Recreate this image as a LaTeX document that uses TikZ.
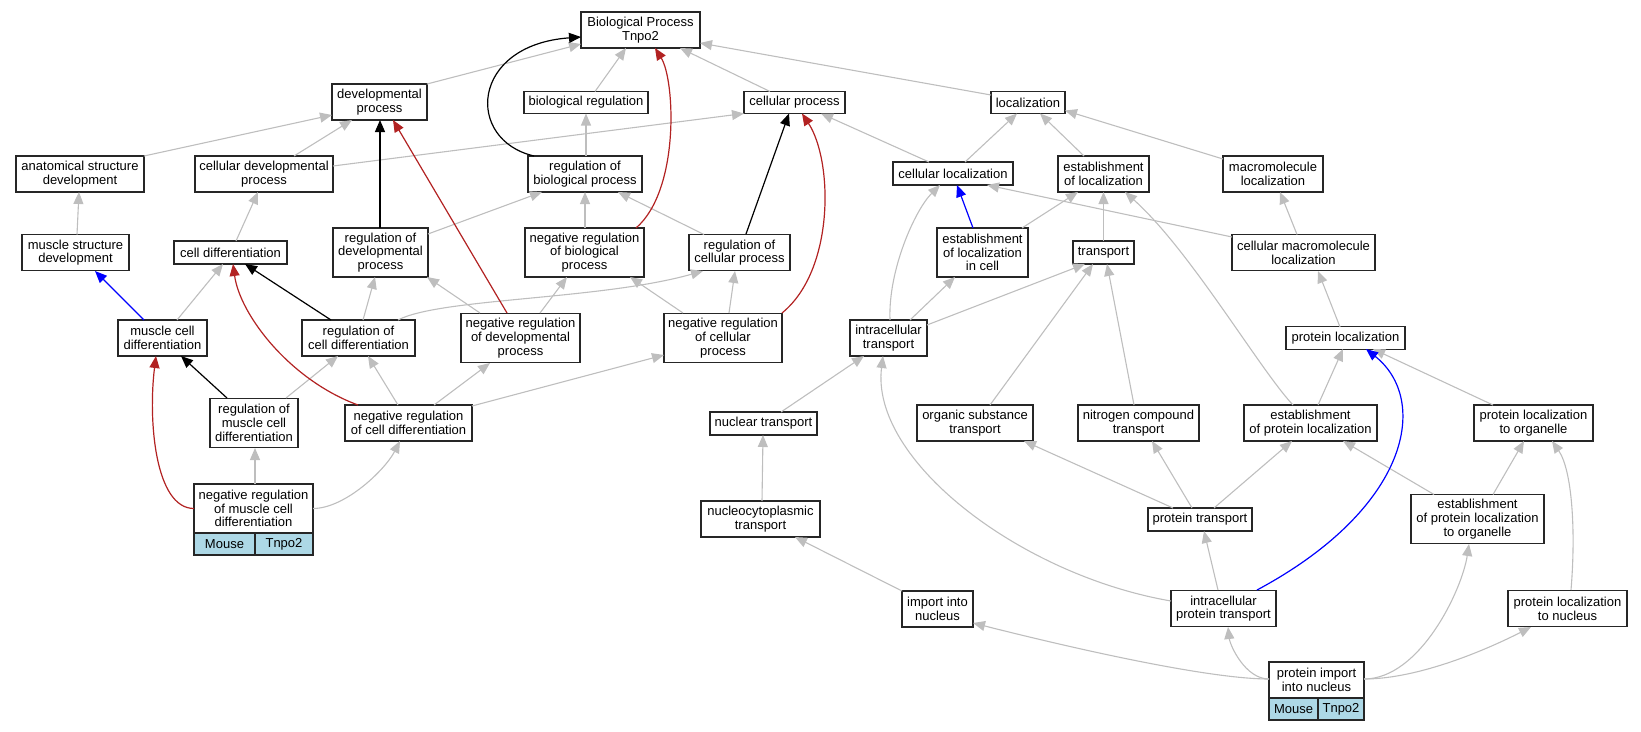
\documentclass[tikz,border=0pt]{standalone}
\usepackage{fontspec}
\setmainfont{Liberation Sans}
\usetikzlibrary{arrows.meta}
\definecolor{edgegray}{HTML}{BEBEBE}
\definecolor{firebrick}{HTML}{B22222}
\definecolor{lightblue}{HTML}{ADD8E6}
\begin{document}
\begin{tikzpicture}[x=1pt,y=-1pt,
  box/.style={draw=black!85, line width=1.2pt, fill=white, inner sep=0pt, align=center,
    font=\fontsize{13}{13.7}\selectfont},
  sz/.style 2 args={minimum width=#1pt, minimum height=#2pt},
  cell/.style={box, fill=lightblue},
  tip/.style={-{Triangle[length=12pt,width=10pt]}},
  gedge/.style={tip, draw=edgegray, line width=1.1pt},
  kedge/.style={tip, draw=black, line width=1.2pt},
  redge/.style={tip, draw=firebrick, line width=1.2pt},
  bedge/.style={tip, draw=blue, line width=1.2pt}]
\useasboundingbox (0,0) rectangle (1641,731);
% nodes
\node[box, sz={119}{36}] (BP) at (640.5,30) {Biological Process\\Tnpo2};
\node[box, sz={95}{36}] (dev) at (379.5,102) {developmental\\process};
\node[box, sz={124}{22}] (bioreg) at (586,102.5) {biological regulation};
\node[box, sz={101}{22}] (cellproc) at (794.5,102.5) {cellular process};
\node[box, sz={74}{22}] (loc) at (1028,102.5) {localization};
\node[box, sz={128}{36}] (asd) at (80,174) {anatomical structure\\development};
\node[box, sz={138}{36}] (cdp) at (264,174) {cellular developmental\\process};
\node[box, sz={114}{36}] (rbp) at (585,174) {regulation of\\biological process};
\node[box, sz={120}{23}] (cloc) at (953,173.5) {cellular localization};
\node[box, sz={91}{36}] (eloc) at (1103.5,174) {establishment\\of localization};
\node[box, sz={100}{36}] (mloc) at (1273,174) {macromolecule\\localization};
\node[box, sz={107}{36}] (msd) at (75.5,252.5) {muscle structure\\development};
\node[box, sz={113}{23}] (celldiff) at (230.5,252.5) {cell differentiation};
\node[box, sz={95}{49}] (rdp) at (380.5,252.5) {regulation of\\developmental\\process};
\node[box, sz={119}{49}] (nrbp) at (584.5,252.5) {negative regulation\\of biological\\process};
\node[box, sz={101}{36}] (rcp) at (739.5,252.5) {regulation of\\cellular process};
\node[box, sz={91}{49}] (elc) at (982.5,252.5) {establishment\\of localization\\in cell};
\node[box, sz={61}{23}] (transport) at (1103.5,252.5) {transport};
\node[box, sz={143}{36}] (cml) at (1303.5,252.5) {cellular macromolecule\\localization};
\node[box, sz={89}{36}] (mcd) at (162.5,338) {muscle cell\\differentiation};
\node[box, sz={113}{36}] (rcd) at (358.5,338) {regulation of\\cell differentiation};
\node[box, sz={119}{49}] (nrdp) at (520.5,338) {negative regulation\\of developmental\\process};
\node[box, sz={118}{49}] (nrcp) at (723,338) {negative regulation\\of cellular\\process};
\node[box, sz={77}{36}] (it) at (888.5,338) {intracellular\\transport};
\node[box, sz={119}{23}] (ploc) at (1345.5,338) {protein localization};
\node[box, sz={88}{49}] (rmcd) at (254,423) {regulation of\\muscle cell\\differentiation};
\node[box, sz={127}{36}] (nrcd) at (408.5,423) {negative regulation\\of cell differentiation};
\node[box, sz={107}{23}] (nt) at (763.5,423.5) {nuclear transport};
\node[box, sz={116}{36}] (ost) at (975,423) {organic substance\\transport};
\node[box, sz={121}{36}] (nct) at (1138.5,423) {nitrogen compound\\transport};
\node[box, sz={133}{36}] (epl) at (1310.5,423) {establishment\\of protein localization};
\node[box, sz={119}{36}] (plo) at (1533.5,423) {protein localization\\to organelle};
\node[box, sz={119}{49}] (nrmcd) at (253.5,508.5) {negative regulation\\of muscle cell\\differentiation};
\node[cell, sz={61}{22}] (mouseA) at (224.5,544) {Mouse};
\node[cell, sz={58}{22}] (tnpoA) at (284,544) {Tnpo2};
\node[box, sz={119}{36}] (nct2) at (760.5,519) {nucleocytoplasmic\\transport};
\node[box, sz={104}{23}] (pt) at (1200,519.5) {protein transport};
\node[box, sz={133}{49}] (eplo) at (1477.5,519) {establishment\\of protein localization\\to organelle};
\node[box, sz={71}{36}] (iin) at (937.5,609) {import into\\nucleus};
\node[box, sz={105}{36}] (ipt) at (1223.5,608.5) {intracellular\\protein transport};
\node[box, sz={119}{36}] (pln) at (1567.5,608.5) {protein localization\\to nucleus};
\node[box, sz={95}{36}] (pin) at (1316.5,680) {protein import\\into nucleus};
\node[cell, sz={49}{22}] (mouseB) at (1293.5,709) {Mouse};
\node[cell, sz={46}{22}] (tnpoB) at (1341,709) {Tnpo2};
% gray straight edges
\draw[gedge] ([shift={(47.5,-18)}]dev.center) -- ([shift={(-59.5,14)}]BP.center);
\draw[gedge] ([shift={(9,-11)}]bioreg.center) -- ([shift={(-14.5,18)}]BP.center);
\draw[gedge] ([shift={(-24.5,-11)}]cellproc.center) -- ([shift={(39.5,18)}]BP.center);
\draw[gedge] ([shift={(-37,-7.5)}]loc.center) -- ([shift={(59.5,13)}]BP.center);
\draw[gedge] ([shift={(64,-18)}]asd.center) -- ([shift={(-47.5,13)}]dev.center);
\draw[gedge] ([shift={(30,-18)}]cdp.center) -- ([shift={(-27.5,18)}]dev.center);
\draw[gedge] ([shift={(69,-8)}]cdp.center) -- ([shift={(-50.5,11)}]cellproc.center);
\draw[gedge] ([shift={(1,-18)}]rbp.center) -- ([shift={(0,11)}]bioreg.center);
\draw[gedge] ([shift={(-24,-11.5)}]cloc.center) -- ([shift={(26.5,11)}]cellproc.center);
\draw[gedge] ([shift={(12,-11.5)}]cloc.center) -- ([shift={(-11,11)}]loc.center);
\draw[gedge] ([shift={(-19.5,-18)}]eloc.center) -- ([shift={(12,11)}]loc.center);
\draw[gedge] ([shift={(-50,-15)}]mloc.center) -- ([shift={(37,8)}]loc.center);
\draw[gedge] ([shift={(1.5,-18)}]msd.center) -- ([shift={(-1,18)}]asd.center);
\draw[gedge] ([shift={(5.5,-11.5)}]celldiff.center) -- ([shift={(-6,18)}]cdp.center);
\draw[gedge] ([shift={(47.5,-18.5)}]rdp.center) -- ([shift={(-43,18)}]rbp.center);
\draw[gedge] ([shift={(0.5,-24.5)}]nrbp.center) -- ([shift={(0,18)}]rbp.center);
\draw[gedge] ([shift={(-35.5,-18)}]rcp.center) -- ([shift={(33,18)}]rbp.center);
\draw[gedge] ([shift={(39.5,-24.5)}]elc.center) -- ([shift={(-25.5,18)}]eloc.center);
\draw[gedge] ([shift={(0,-11.5)}]transport.center) -- ([shift={(0,18)}]eloc.center);
\draw[gedge] ([shift={(-71.5,-15.5)}]cml.center) -- ([shift={(34,11.5)}]cloc.center);
\draw[gedge] ([shift={(-6.5,-18)}]cml.center) -- ([shift={(7,18)}]mloc.center);
\draw[gedge] ([shift={(14.5,-18)}]mcd.center) -- ([shift={(-7.5,11.5)}]celldiff.center);
\draw[gedge] ([shift={(4.5,-18)}]rcd.center) -- ([shift={(-5.5,24.5)}]rdp.center);
\draw[gedge] ([shift={(-40.5,-25)}]nrdp.center) -- ([shift={(46.5,24.5)}]rdp.center);
\draw[gedge] ([shift={(19.5,-25)}]nrdp.center) -- ([shift={(-17.5,24.5)}]nrbp.center);
\draw[gedge] ([shift={(-40,-25)}]nrcp.center) -- ([shift={(45.5,24.5)}]nrbp.center);
\draw[gedge] ([shift={(6,-25)}]nrcp.center) -- ([shift={(-4.5,18.5)}]rcp.center);
\draw[gedge] ([shift={(21.5,-18)}]it.center) -- ([shift={(-27.5,24.5)}]elc.center);
\draw[gedge] ([shift={(38.5,-13)}]it.center) -- ([shift={(-18.5,11.5)}]transport.center);
\draw[gedge] ([shift={(15,-18)}]ost.center) -- ([shift={(-10.5,11.5)}]transport.center);
\draw[gedge] ([shift={(-4.5,-18)}]nct.center) -- ([shift={(3.5,11.5)}]transport.center);
\draw[gedge] ([shift={(7.5,-18)}]epl.center) -- ([shift={(-2.5,11)}]ploc.center);
\draw[gedge] ([shift={(-5.5,-11)}]ploc.center) -- ([shift={(14.5,18.5)}]cml.center);
\draw[gedge] ([shift={(-40.5,-18)}]plo.center) -- ([shift={(27.5,11)}]ploc.center);
\draw[gedge] ([shift={(32,-25)}]rmcd.center) -- ([shift={(-20.5,18)}]rcd.center);
\draw[gedge] ([shift={(-10.5,-18)}]nrcd.center) -- ([shift={(9.5,18)}]rcd.center);
\draw[gedge] ([shift={(25.5,-18)}]nrcd.center) -- ([shift={(-30.5,25)}]nrdp.center);
\draw[gedge] ([shift={(63.5,-17)}]nrcd.center) -- ([shift={(-59,17)}]nrcp.center);
\draw[gedge] ([shift={(1.5,-24.5)}]nrmcd.center) -- ([shift={(1,25)}]rmcd.center);
\draw[gedge] ([shift={(17.5,-11.5)}]nt.center) -- ([shift={(-24.5,18)}]it.center);
\draw[gedge] ([shift={(-27,-11.5)}]pt.center) -- ([shift={(49,18)}]ost.center);
\draw[gedge] ([shift={(-8,-11.5)}]pt.center) -- ([shift={(13.5,18)}]nct.center);
\draw[gedge] ([shift={(14,-11.5)}]pt.center) -- ([shift={(-18.5,18)}]epl.center);
\draw[gedge] ([shift={(-43.5,-24.5)}]eplo.center) -- ([shift={(32.5,18)}]epl.center);
\draw[gedge] ([shift={(15.5,-24.5)}]eplo.center) -- ([shift={(-9.5,18)}]plo.center);
\draw[gedge] ([shift={(1.5,-18)}]nct2.center) -- ([shift={(-0.5,11.5)}]nt.center);
\draw[gedge] ([shift={(-5.5,-18.5)}]ipt.center) -- ([shift={(4,11.5)}]pt.center);
\draw[gedge] ([shift={(-35.5,-18)}]iin.center) -- ([shift={(34.5,18)}]nct2.center);
% gray curved edges
\draw[gedge] ([shift={(39.5,-18)}]rcd.center) .. controls +(42,-22) and +(-103,29) .. ([shift={(-36.5,18.5)}]rcp.center);
\draw[gedge] ([shift={(1.5,-18)}]it.center) .. controls +(-2,-50) and +(-25,25) .. ([shift={(-13,11.5)}]cloc.center);
\draw[gedge] ([shift={(-17.5,-18)}]epl.center) .. controls +(-33,-35) and +(65,58) .. ([shift={(21.5,18)}]eloc.center);
\draw[gedge] ([shift={(59.5,0)}]nrmcd.center) .. controls +(32,0) and +(-15,29) .. ([shift={(-8.5,18)}]nrcd.center);
\draw[gedge] ([shift={(-52.5,-7.5)}]ipt.center) .. controls +(-151,-26) and +(-13,104) .. ([shift={(-5.5,18)}]it.center);
\draw[gedge] ([shift={(-47.5,-1)}]pin.center) .. controls +(-69,0) and +(67,17) .. ([shift={(35.5,14)}]iin.center);
\draw[gedge] ([shift={(-47.5,-1)}]pin.center) .. controls +(-24,0) and +(2,18) .. ([shift={(4.5,18.5)}]ipt.center);
\draw[gedge] ([shift={(47.5,-1)}]pin.center) .. controls +(56,0) and +(-7,46) .. ([shift={(-8.5,25)}]eplo.center);
\draw[gedge] ([shift={(47.5,-1)}]pin.center) .. controls +(56,0) and +(-41,21) .. ([shift={(-36.5,18.5)}]pln.center);
\draw[gedge] ([shift={(3.5,-18.5)}]pln.center) .. controls +(5,-60) and +(20,29) .. ([shift={(18.5,18)}]plo.center);
% black edges
\draw[kedge] ([shift={(-51,-18)}]rbp.center) .. controls +(-69,-16) and +(-111,8) .. ([shift={(-59.5,7)}]BP.center);
\draw[kedge] ([shift={(-0.5,-24.5)}]rdp.center) -- ([shift={(0.5,18)}]dev.center);
\draw[kedge] ([shift={(-27.5,-18)}]rcd.center) -- ([shift={(14.5,11.5)}]celldiff.center);
\draw[kedge] ([shift={(-27,-25)}]rmcd.center) -- ([shift={(18.5,18)}]mcd.center);
\draw[kedge] ([shift={(6.5,-18.5)}]rcp.center) -- ([shift={(-5.5,11)}]cellproc.center);
% red edges
\draw[redge] ([shift={(51.5,-24.5)}]nrbp.center) .. controls +(44,-38) and +(20,32) .. ([shift={(14.5,18)}]BP.center);
\draw[redge] ([shift={(-13.5,-25)}]nrdp.center) -- ([shift={(13.5,18)}]dev.center);
\draw[redge] ([shift={(-50.5,-18)}]nrcd.center) .. controls +(-68,-25) and +(7,51) .. ([shift={(2.5,11.5)}]celldiff.center);
\draw[redge] ([shift={(-59.5,0)}]nrmcd.center) .. controls +(-39,0) and +(-8,64) .. ([shift={(-6.5,18)}]mcd.center);
\draw[redge] ([shift={(59,-25)}]nrcp.center) .. controls +(53,-43) and +(31,47) .. ([shift={(7.5,11)}]cellproc.center);
% blue edges
\draw[bedge] ([shift={(-18.5,-18)}]mcd.center) -- ([shift={(19.5,18.5)}]msd.center);
\draw[bedge] ([shift={(-9.5,-24.5)}]elc.center) -- ([shift={(4,11.5)}]cloc.center);
\draw[bedge] ([shift={(33.5,-18.5)}]ipt.center) .. controls +(153,-82) and +(64,51) .. ([shift={(20.5,11)}]ploc.center);
\end{tikzpicture}
\end{document}
